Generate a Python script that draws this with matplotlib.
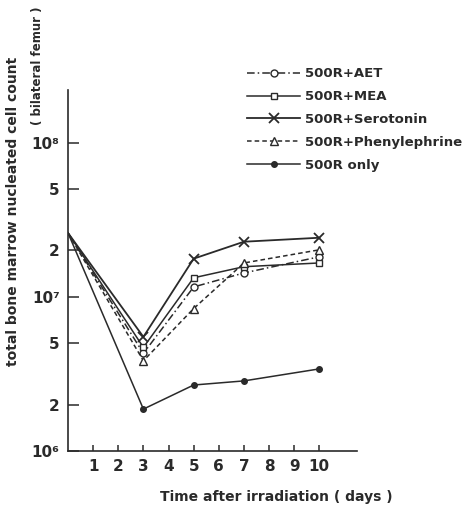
import matplotlib
matplotlib.use("Agg")
import matplotlib.pyplot as plt
from matplotlib.ticker import FixedLocator, NullLocator

plt.rcParams['font.family'] = ['DejaVu Sans']

days = [0, 3, 5, 7, 10]

aet = [2.6e7, 4.3e6, 1.16e7, 1.43e7, 1.82e7]
mea = [2.6e7, 4.7e6, 1.33e7, 1.57e7, 1.66e7]
serotonin = [2.6e7, 5.5e6, 1.77e7, 2.28e7, 2.42e7]
phenylephrine = [2.6e7, 3.85e6, 8.4e6, 1.66e7, 2.02e7]
only = [2.6e7, 1.87e6, 2.68e6, 2.85e6, 3.41e6]

labels = ['500R+AET', '500R+MEA', '500R+Serotonin', '500R+Phenylephrine', '500R only']

y_ticks = [1e6, 2e6, 5e6, 1e7, 2e7, 5e7, 1e8]
y_tick_labels = ['10⁶', '2', '5', '10⁷', '2', '5', '10⁸']
x_ticks = [1, 2, 3, 4, 5, 6, 7, 8, 9, 10]

ink = '#2a2a2a'

fig = plt.figure(figsize=(4.67, 5.08), dpi=100)
ax = fig.add_axes([68 / 467, 1 - 451 / 508, (357 - 68) / 467, (451 - 90) / 508])

ax.plot(days, aet, linestyle=(0, (5, 2, 1, 2)), color=ink, lw=1.1,
        marker='o', ms=5, mfc='white', mec=ink, mew=1.0, label=labels[0])
ax.plot(days, mea, linestyle='-', color=ink, lw=1.1,
        marker='s', ms=5, mfc='white', mec=ink, mew=1.0, label=labels[1])
ax.plot(days, serotonin, linestyle='-', color=ink, lw=1.3,
        marker='x', ms=7, mec=ink, mew=1.3, label=labels[2])
ax.plot(days, phenylephrine, linestyle=(0, (3, 2)), color=ink, lw=1.1,
        marker='^', ms=6, mfc='white', mec=ink, mew=1.0, label=labels[3])
ax.plot(days, only, linestyle='-', color=ink, lw=1.1,
        marker='o', ms=4, mfc=ink, mec=ink, label=labels[4])

# first point is the shared starting value, no marker there
for line in ax.get_lines():
    line.set_markevery([1, 2, 3, 4])

ax.set_yscale('log')
ax.set_ylim(1e6, 2.2e8)
ax.set_xlim(0, 11.5)
ax.yaxis.set_major_locator(FixedLocator(y_ticks))
ax.yaxis.set_minor_locator(NullLocator())
ax.set_yticklabels(y_tick_labels)
ax.set_xticks(x_ticks)
ax.set_xticklabels([str(t) for t in x_ticks])

for s in ['top', 'right']:
    ax.spines[s].set_visible(False)
for s in ['left', 'bottom']:
    ax.spines[s].set_color(ink)
    ax.spines[s].set_linewidth(1.2)

ax.tick_params(axis='y', direction='in', length=8, width=1.1, colors=ink,
               labelsize=11, pad=6)
ax.tick_params(axis='x', direction='in', length=4, width=1.1, colors=ink,
               labelsize=11, pad=6)
for t in ax.get_xticklabels() + ax.get_yticklabels():
    t.set_fontweight('bold')

fig.text(13 / 467, 1 - 211 / 508, 'total bone marrow nucleated cell count',
         rotation=90, ha='center', va='center', fontsize=10, fontweight='bold',
         color=ink)
fig.text(38 / 467, 1 - 66 / 508, '( bilateral femur )',
         rotation=90, ha='center', va='center', fontsize=8.5, fontweight='bold',
         color=ink)
fig.text(276 / 467, 1 - 497 / 508, 'Time after irradiation ( days )',
         ha='center', va='center', fontsize=10, fontweight='bold', color=ink)

leg = fig.legend(loc='upper left', bbox_to_anchor=(242 / 467, 1 - 62 / 508),
                 frameon=False, handlelength=4.0, handletextpad=0.4,
                 labelspacing=0.75, borderaxespad=0,
                 prop={'size': 9.5, 'weight': 'bold'})
for t in leg.get_texts():
    t.set_color(ink)

fig.savefig('out.png', dpi=100, facecolor='white')
